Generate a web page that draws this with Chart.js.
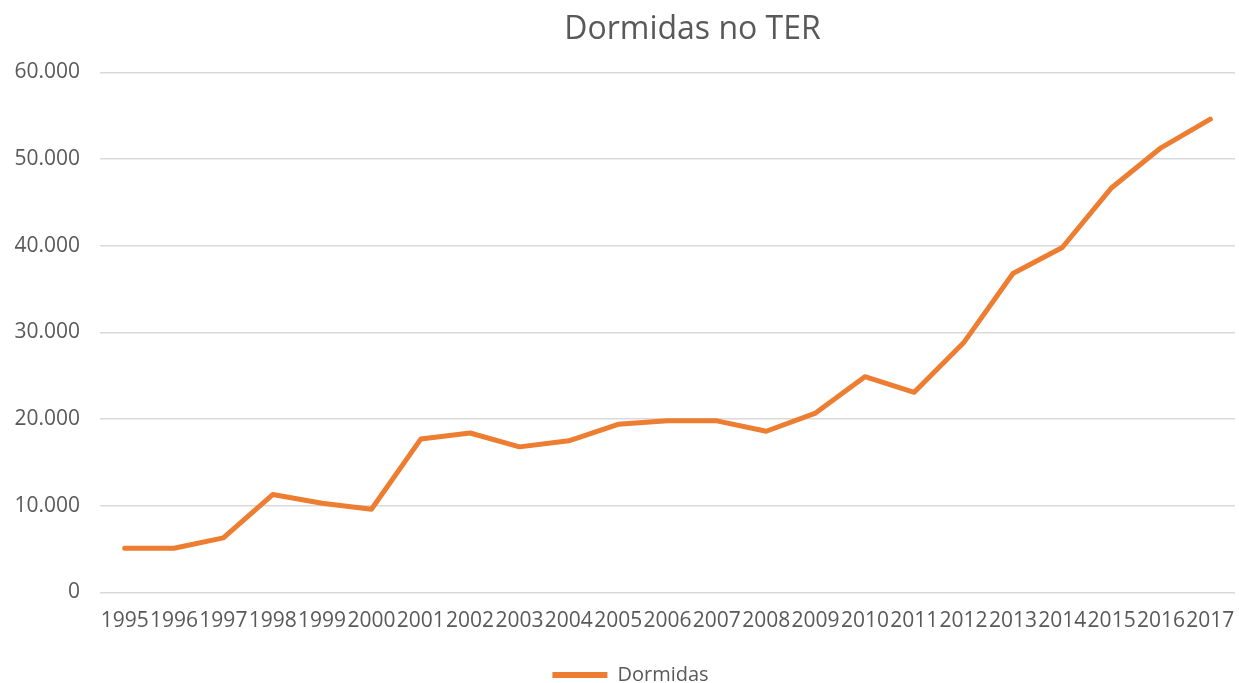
<!DOCTYPE html>
<html>
<head>
<meta charset="utf-8">
<script src="https://cdn.jsdelivr.net/npm/chart.js@4.4.1/dist/chart.umd.min.js"></script>
<style>
  html, body { margin: 0; padding: 0; background: #ffffff; }
  #wrap { width: 1239px; height: 683px; position: relative; }
</style>
</head>
<body>
<div id="wrap"><canvas id="c" width="1239" height="683"></canvas></div>
<script>
const categories = ["1995","1996","1997","1998","1999","2000","2001","2002","2003","2004","2005","2006","2007","2008","2009","2010","2011","2012","2013","2014","2015","2016","2017"];
const dormidas = [5100, 5100, 6300, 11300, 10300, 9600, 17700, 18400, 16800, 17500, 19400, 19800, 19800, 18600, 20700, 24900, 23100, 28800, 36800, 39800, 46700, 51300, 54600];
const seriesName = "Dormidas";
const chartTitle = "Dormidas no TER";
const yMin = 0, yMax = 60000, yStep = 10000;

function fmt(v) {
  return String(v).replace(/\B(?=(\d{3})+(?!\d))/g, ".");
}

const shiftPlugin = {
  id: 'shiftBoxes',
  afterLayout(chart) {
    if (chart.titleBlock) { chart.titleBlock.left += 75; chart.titleBlock.right += 75; }
    if (chart.legend) {
      chart.legend.left += 13; chart.legend.right += 13;
      chart.legend.top += 12; chart.legend.bottom += 12;
    }
  }
};

const textColor = '#595959';
const fam = '"Open Sans", "DejaVu Sans", sans-serif';

new Chart(document.getElementById('c'), {
  type: 'line',
  data: {
    labels: categories,
    datasets: [{
      label: seriesName,
      data: dormidas,
      borderColor: '#ED7D31',
      backgroundColor: '#ED7D31',
      borderWidth: 5,
      tension: 0,
      pointRadius: 0,
      pointHoverRadius: 0,
      borderCapStyle: 'round',
      borderJoinStyle: 'round',
      fill: false
    }]
  },
  options: {
    responsive: false,
    animation: false,
    devicePixelRatio: 1,
    layout: { padding: { left: 0, right: 4, top: 0, bottom: 0 } },
    plugins: {
      title: {
        display: true,
        text: chartTitle,
        color: textColor,
        font: { family: fam, size: 32, weight: 'normal', lineHeight: 1.2 },
        padding: { top: 11, bottom: 23 }
      },
      legend: {
        display: true,
        position: 'bottom',
        labels: {
          color: textColor,
          font: { family: fam, size: 20 },
          boxWidth: 55,
          boxHeight: 6,
          padding: 10,
          generateLabels(chart) {
            const items = Chart.defaults.plugins.legend.labels.generateLabels(chart);
            items.forEach(it => { it.lineWidth = 0; it.fillStyle = '#ED7D31'; });
            return items;
          }
        }
      },
      tooltip: { enabled: false }
    },
    scales: {
      x: {
        offset: true,
        grid: { display: false, drawTicks: false },
        border: { display: false },
        afterFit(scale) { scale.paddingLeft = 0; scale.paddingRight = 0; scale.height = 50.5; },
        ticks: {
          color: textColor,
          font: { family: fam, size: 21 },
          autoSkip: false,
          maxRotation: 0,
          minRotation: 0,
          padding: 16
        }
      },
      y: {
        min: yMin,
        max: yMax,
        grid: { color: '#d9d9d9', lineWidth: 1.5, drawTicks: false },
        border: { display: false },
        afterFit(scale) { scale.width = 100; },
        ticks: {
          stepSize: yStep,
          color: textColor,
          font: { family: fam, size: 21 },
          padding: 20,
          callback: (v) => fmt(v)
        }
      }
    }
  },
  plugins: [shiftPlugin]
});
</script>
</body>
</html>
